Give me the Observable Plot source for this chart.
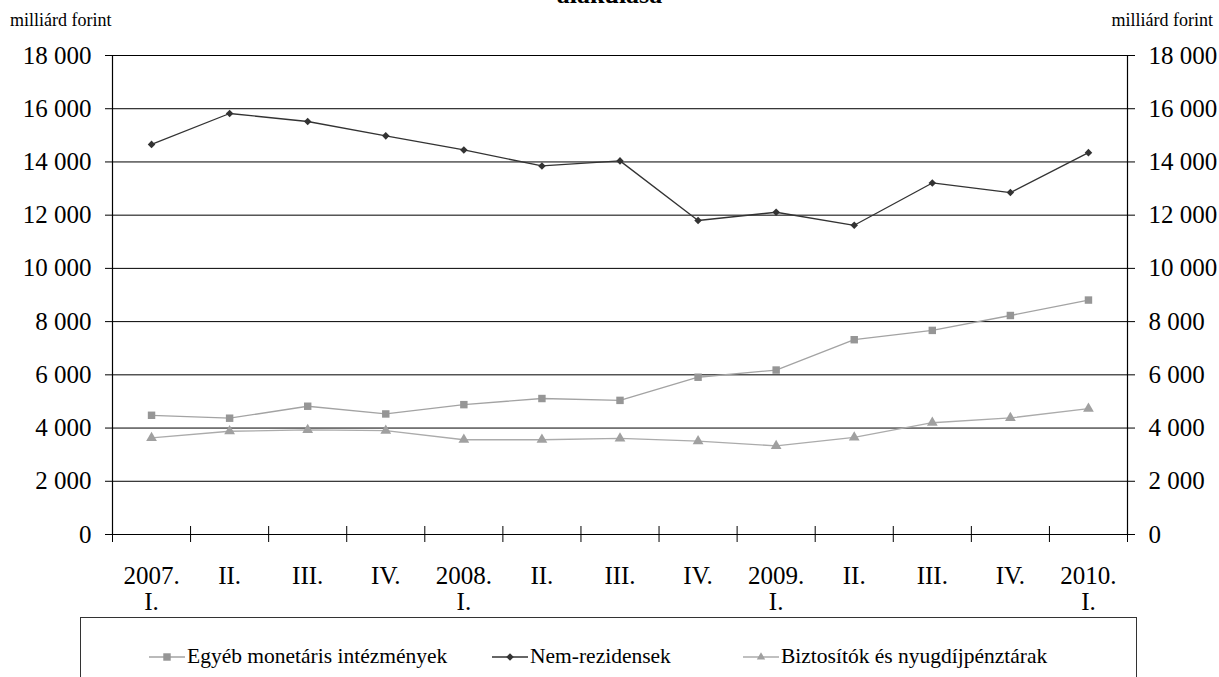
<!DOCTYPE html>
<html>
<head>
<meta charset="utf-8">
<script src="https://cdn.jsdelivr.net/npm/d3@7"></script>
<script src="https://cdn.jsdelivr.net/npm/@observablehq/plot@0.6"></script>
<style>
  body { margin: 0; background: #fff; }
  #wrap { position: relative; width: 1219px; height: 677px; overflow: hidden; font-family: "Liberation Serif", "DejaVu Serif", "Tinos", "Times New Roman", Times, serif; color: #000; }
  .unit { position: absolute; top: 10px; font-size: 18px; white-space: nowrap; z-index: 2; }
  #title { position: absolute; top: -18px; left: 0; width: 1219px; text-align: center; font-weight: bold; font-size: 26px; line-height: 26px; z-index: 2; }
  #legend { position: absolute; left: 80px; top: 617px; width: 1057px; height: 80px; border: 1px solid #333; box-sizing: border-box; background: #fff; z-index: 2; }
  .item { position: absolute; top: 26px; display: flex; align-items: center; font-size: 21.5px; white-space: nowrap; }
  .item svg { margin-right: 2px; }
  #chart { position: absolute; left: 0; top: 0; z-index: 1; }
</style>
</head>
<body>
<div id="wrap">
  <div id="title">alakulása</div>
  <div class="unit" style="left:10px">milliárd forint</div>
  <div class="unit" style="right:6px">milliárd forint</div>
  <div id="chart"></div>
  <div id="legend"></div>
</div>
<script>
// ---- data ----
const quarters = ["2007.\nI.", "II.", "III.", "IV.", "2008.\nI.", "II.", "III.", "IV.", "2009.\nI.", "II.", "III.", "IV.", "2010.\nI."];
const egyebMonetaris = [4480, 4370, 4820, 4530, 4880, 5110, 5040, 5910, 6180, 7320, 7670, 8230, 8810];
const nemRezidensek = [14660, 15820, 15520, 14980, 14450, 13850, 14040, 11800, 12110, 11620, 13210, 12850, 14350];
const biztositok = [3630, 3880, 3930, 3900, 3560, 3560, 3610, 3510, 3330, 3650, 4200, 4380, 4730];
const yTicks = [0, 2000, 4000, 6000, 8000, 10000, 12000, 14000, 16000, 18000];
const seriesNames = ["Egyéb monetáris intézmények", "Nem-rezidensek", "Biztosítók és nyugdíjpénztárak"];

// ---- styles ----
const styles = {
  "Egyéb monetáris intézmények": {line: "#a3a3a3", fill: "#969696", symbol: "square", r: 4.2},
  "Nem-rezidensek": {line: "#333333", fill: "#333333", symbol: "diamond2", r: 3.4},
  "Biztosítók és nyugdíjpénztárak": {line: "#ababab", fill: "#a0a0a0", symbol: "triangle", r: 4}
};

const seriesValues = [egyebMonetaris, nemRezidensek, biztositok];
const rows = [];
seriesNames.forEach((name, s) => seriesValues[s].forEach((v, i) => rows.push({series: name, i, v})));
const boundaries = d3.range(quarters.length + 1).map(k => k - 0.5);
const fmt = d => d3.format(",")(d).replace(/,/g, " ");
const FONT = '"Liberation Serif", "DejaVu Serif", "Tinos", "Times New Roman", Times, serif';

const marks = [
  Plot.ruleY(yTicks, {stroke: "#000", strokeWidth: 1}),
  Plot.ruleX([boundaries[0], boundaries[boundaries.length - 1]], {y1: 0, y2: 18000, stroke: "#000", strokeWidth: 1.2}),
  Plot.ruleX(boundaries, {x: d => d, y1: 0, y2: 0, insetTop: -8, insetBottom: -8, stroke: "#000", strokeWidth: 1}),
  Plot.axisY({anchor: "left", ticks: yTicks, tickFormat: fmt, tickSize: 7, tickPadding: 14, label: null, fontSize: 25}),
  Plot.axisY({anchor: "right", ticks: yTicks, tickFormat: fmt, tickSize: 7, tickPadding: 14, label: null, fontSize: 25}),
  Plot.text(quarters, {x: (d, i) => i, y: () => 0, text: d => d, lineAnchor: "top", dy: 31, lineHeight: 1.05, fontSize: 25})
];
for (const name of seriesNames) {
  const st = styles[name];
  const data = rows.filter(r => r.series === name);
  marks.push(Plot.line(data, {x: "i", y: "v", stroke: st.line, strokeWidth: 1.3}));
}
for (const name of seriesNames) {
  const st = styles[name];
  const data = rows.filter(r => r.series === name);
  marks.push(Plot.dot(data, {x: "i", y: "v", symbol: () => st.symbol, fill: st.fill, stroke: "none", r: st.r}));
}

const chart = Plot.plot({
  width: 1219,
  height: 677,
  marginTop: 55,
  marginBottom: 143,
  marginLeft: 112,
  marginRight: 92,
  style: {fontFamily: FONT, fontSize: "25px", color: "#000", background: "transparent"},
  x: {type: "linear", domain: [-0.5, quarters.length - 0.5], axis: null},
  y: {domain: [0, 18000], axis: null},
  symbol: {type: "identity"},
  marks
});
document.getElementById("chart").appendChild(chart);

// ---- legend ----
const legendLefts = [68, 411, 662];
const legend = document.getElementById("legend");
seriesNames.forEach((name, k) => {
  const st = styles[name];
  const item = document.createElement("div");
  item.className = "item";
  item.style.left = legendLefts[k] + "px";
  const shape = {square: d3.symbolSquare, diamond2: d3.symbolDiamond2, triangle: d3.symbolTriangle2}[st.symbol];
  const path = d3.symbol(shape, st.r * st.r * Math.PI)();
  item.innerHTML = `<svg width="36" height="14" viewBox="0 0 36 14"><line x1="0" y1="7" x2="36" y2="7" stroke="${st.line}" stroke-width="1.3"/><path transform="translate(18,7)" d="${path}" fill="${st.fill}"/></svg><span>${name}</span>`;
  legend.appendChild(item);
});
</script>
</body>
</html>
